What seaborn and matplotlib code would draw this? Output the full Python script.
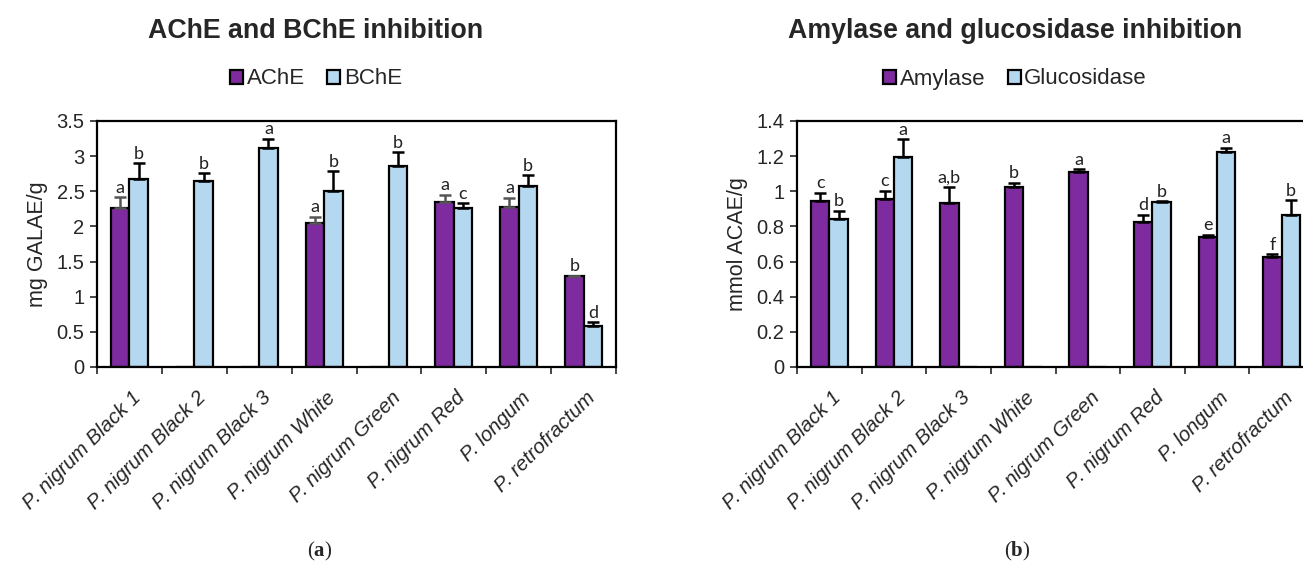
import numpy as np
import pandas as pd
import seaborn as sns
import matplotlib.pyplot as plt
from matplotlib.patches import Patch
from matplotlib.transforms import ScaledTranslation

## data
samples = ['P. nigrum Black 1', 'P. nigrum Black 2', 'P. nigrum Black 3', 'P. nigrum White',
           'P. nigrum Green', 'P. nigrum Red', 'P. longum', 'P. retrofractum']

ache = [2.26, 0, 0, 2.05, 0, 2.35, 2.28, 1.29]
ache_err = [0.16, 0, 0, 0.09, 0, 0.10, 0.13, 0.01]
ache_letters = ['a', '', '', 'a', '', 'a', 'a', 'b']
bche = [2.68, 2.65, 3.11, 2.50, 2.86, 2.26, 2.58, 0.58]
bche_err = [0.22, 0.11, 0.14, 0.29, 0.20, 0.07, 0.15, 0.06]
bche_letters = ['b', 'b', 'a', 'b', 'b', 'c', 'b', 'd']

amylase = [0.947, 0.958, 0.934, 1.026, 1.108, 0.826, 0.741, 0.626]
amylase_err = [0.045, 0.045, 0.092, 0.024, 0.017, 0.040, 0.011, 0.017]
amylase_letters = ['c', 'c', 'a,b', 'b', 'a', 'd', 'e', 'f']
gluco = [0.845, 1.196, 0, 0, 0, 0.94, 1.221, 0.866]
gluco_err = [0.045, 0.099, 0, 0, 0, 0.005, 0.026, 0.084]
gluco_letters = ['b', 'a', '', '', '', 'b', 'a', 'b']

purple = '#7F2BA0'
lightblue = '#B4D8EF'

sns.set_style('white')
plt.rcParams['font.family'] = ['Liberation Sans', 'DejaVu Sans']
plt.rcParams['mathtext.fontset'] = 'custom'
plt.rcParams['mathtext.bf'] = 'Liberation Serif:bold'
plt.rcParams['mathtext.rm'] = 'Liberation Serif'

fig = plt.figure(figsize=(13.03, 5.69), dpi=100)
ax1 = fig.add_axes([97 / 1303, 202 / 569, 519 / 1303, 246 / 569])
ax2 = fig.add_axes([797 / 1303, 202 / 569, 517 / 1303, 246 / 569])


def panel(ax, names, v1, e1, l1, v2, e2, l2, ymax, ystep, ylabel, title, legx, errc1):
    df = pd.DataFrame({
        'sample': samples * 2,
        'value': v1 + v2,
        'series': [names[0]] * len(samples) + [names[1]] * len(samples),
    })
    sns.barplot(data=df, x='sample', y='value', hue='series', hue_order=names,
                palette=[purple, lightblue], saturation=1, edgecolor='black', linewidth=1.6,
                width=0.57, gap=0, errorbar=None, legend=False, ax=ax)

    for cont, vals, errs, lets, ec in zip(ax.containers, [v1, v2], [e1, e2], [l1, l2], [errc1, 'black']):
        for bar, v, e, lt in zip(cont, vals, errs, lets):
            x = bar.get_x() + bar.get_width() / 2
            if e > 0:
                ax.errorbar(x, v, yerr=[[0], [e]], fmt='none', ecolor=ec,
                            elinewidth=1.8, capsize=4, capthick=1.8, zorder=1)
            if lt:
                ax.annotate(lt, (x, v + e), xytext=(0, 1), textcoords='offset points',
                            ha='center', va='bottom', fontsize=13, family='Lato', color='#222222')

    ax.set_ylim(0, ymax)
    ax.set_xlim(-0.5, len(samples) - 0.5)
    ax.set_yticks(np.arange(0, ymax + ystep / 2, ystep))
    ax.set_yticklabels([f'{t:g}' for t in np.arange(0, ymax + ystep / 2, ystep)], fontsize=14.5)
    ax.set_xticks(range(len(samples)))
    ax.set_xticks(np.arange(-0.5, len(samples)), minor=True)
    ax.tick_params(axis='x', which='major', length=0, pad=8)
    ax.tick_params(axis='x', which='minor', length=5, width=1.2, direction='out', bottom=True)
    ax.tick_params(axis='y', length=5, width=1.2, direction='out', left=True, pad=4)
    ax.set_xticklabels(samples, rotation=45, ha='right', va='top', rotation_mode='anchor',
                       fontsize=14.8, style='italic')
    # labels sit a little lower than the default pad
    shift = ScaledTranslation(0.02, -0.10, fig.dpi_scale_trans)
    for lab in ax.get_xticklabels():
        lab.set_transform(lab.get_transform() + shift)
    for s in ax.spines.values():
        s.set_linewidth(1.6)
        s.set_color('black')
    ax.set_xlabel('')
    ax.set_ylabel(ylabel, fontsize=15.5, labelpad=6)

    fig.text(legx, 1 - 31 / 569, title, ha='center', va='center', fontsize=19.3, fontweight='bold')
    handles = [Patch(facecolor=purple, edgecolor='black', linewidth=1.6),
               Patch(facecolor=lightblue, edgecolor='black', linewidth=1.6)]
    fig.legend(handles, names, loc='center', bbox_to_anchor=(legx, 1 - 79 / 569), ncol=2,
               frameon=False, fontsize=16, handlelength=0.6, handleheight=0.6,
               handletextpad=0.15, columnspacing=1.0)


panel(ax1, ['AChE', 'BChE'], ache, ache_err, ache_letters, bche, bche_err, bche_letters,
      3.5, 0.5, 'mg GALAE/g', 'AChE and BChE inhibition', 316 / 1303, '#555555')
panel(ax2, ['Amylase', 'Glucosidase'], amylase, amylase_err, amylase_letters, gluco, gluco_err,
      gluco_letters, 1.4, 0.2, 'mmol ACAE/g', 'Amylase and glucosidase inhibition', 1015 / 1303, 'black')

fig.text(320 / 1303, 1 - 551 / 569, r'($\mathbf{a}$)', ha='center', va='center', fontsize=15,
         family='Liberation Serif')
fig.text(1017 / 1303, 1 - 551 / 569, r'($\mathbf{b}$)', ha='center', va='center', fontsize=15,
         family='Liberation Serif')

fig.savefig('out.png', dpi=100)
